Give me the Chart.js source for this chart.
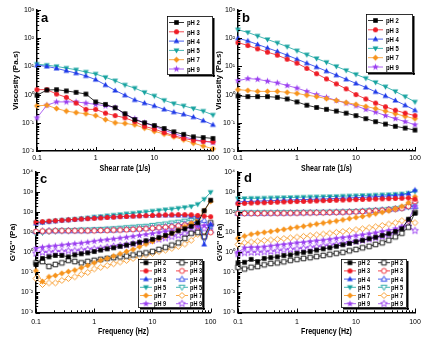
<!DOCTYPE html>
<html>
<head>
<meta charset="utf-8">
<script src="https://cdn.jsdelivr.net/npm/chart.js@4.4.1/dist/chart.umd.min.js"></script>
<style>
  html, body { margin: 0; padding: 0; background: #fff; width: 433px; height: 342px; overflow: hidden; }
  canvas { position: absolute; }
</style>
</head>
<body>
<canvas id="pa" width="222" height="176" style="left:0px;top:0px;width:222px;height:176px"></canvas>
<canvas id="pb" width="222" height="176" style="left:211px;top:0px;width:222px;height:176px"></canvas>
<canvas id="pc" width="222" height="177" style="left:0px;top:165px;width:222px;height:177px"></canvas>
<canvas id="pd" width="222" height="177" style="left:211px;top:165px;width:222px;height:177px"></canvas>
<script>
// ---- shared categories ----
const phLabels = ['pH 2', 'pH 3', 'pH 4', 'pH 5', 'pH 7', 'pH 9'];

// ---- shear-rate sweeps (viscosity, Pa.s) ----
const shearRate = [0.1, 0.147, 0.215, 0.316, 0.464, 0.681, 1, 1.47, 2.15, 3.16, 4.64, 6.81, 10, 14.7, 21.5, 31.6, 46.4, 68.1, 100];

const viscA_pH2 = [0.95, 1.45, 1.5, 1.35, 1.2, 1.05, 0.55, 0.45, 0.34, 0.21, 0.13, 0.1, 0.08, 0.063, 0.048, 0.039, 0.032, 0.03, 0.028];
const viscA_pH3 = [1.5, 1.5, 1.05, 0.8, 0.5, 0.3, 0.3, 0.22, 0.18, 0.15, 0.11, 0.075, 0.06, 0.045, 0.035, 0.028, 0.024, 0.022, 0.021];
const viscA_pH4 = [11, 10, 8.5, 7, 5.8, 4.6, 3.4, 2.2, 1.4, 0.95, 0.65, 0.5, 0.4, 0.3, 0.24, 0.2, 0.16, 0.12, 0.085];
const viscA_pH5 = [12, 11, 10, 8.7, 7.6, 6.3, 5.4, 4.1, 3.1, 2.2, 1.7, 1.2, 0.9, 0.63, 0.48, 0.4, 0.32, 0.26, 0.19];
const viscA_pH7 = [0.4, 0.42, 0.32, 0.26, 0.23, 0.21, 0.18, 0.13, 0.1, 0.095, 0.085, 0.065, 0.05, 0.04, 0.032, 0.025, 0.019, 0.015, 0.012];
const viscA_pH9 = [0.15, 0.42, 0.55, 0.55, 0.55, 0.5, 0.45, 0.4, 0.35, 0.2, 0.14, 0.1, 0.075, 0.055, 0.042, 0.032, 0.026, 0.022, 0.02];

const viscB_pH2 = [0.9, 0.85, 0.85, 0.85, 0.8, 0.7, 0.55, 0.42, 0.35, 0.3, 0.26, 0.22, 0.18, 0.14, 0.11, 0.09, 0.075, 0.065, 0.055];
const viscB_pH3 = [70, 55, 42, 32, 25, 18, 13, 8.5, 5.5, 3.6, 2.4, 1.6, 1.0, 0.7, 0.5, 0.37, 0.28, 0.22, 0.18];
const viscB_pH4 = [100, 80, 60, 45, 34, 25, 18, 13, 9.5, 6.8, 4.9, 3.5, 2.5, 1.8, 1.25, 0.9, 0.62, 0.42, 0.28];
const viscB_pH5 = [200, 160, 120, 90, 68, 50, 36, 26, 19, 14, 10, 7.2, 5.2, 3.8, 2.7, 1.9, 1.3, 0.85, 0.55];
const viscB_pH7 = [1.5, 1.4, 1.3, 1.3, 1.3, 1.2, 1.1, 0.95, 0.85, 0.72, 0.62, 0.52, 0.45, 0.38, 0.32, 0.26, 0.21, 0.17, 0.14];
const viscB_pH9 = [3.1, 3.7, 3.5, 3.0, 2.6, 2.1, 1.7, 1.3, 1.0, 0.8, 0.62, 0.5, 0.4, 0.3, 0.24, 0.18, 0.14, 0.11, 0.085];

// ---- frequency sweeps (G' storage = filled, G'' loss = open, Pa) ----
const frequency = [0.1, 0.129, 0.167, 0.215, 0.278, 0.359, 0.464, 0.599, 0.774, 1, 1.29, 1.67, 2.15, 2.78, 3.59, 4.64, 5.99, 7.74, 10, 12.9, 16.7, 21.5, 27.8, 35.9, 46.4, 59.9, 77.4, 100];

const storC_pH2 = [0.25, 0.5, 0.6, 0.7, 0.7, 0.6, 0.75, 0.85, 0.95, 1.1, 1.3, 1.5, 1.7, 2.0, 2.3, 2.7, 3.2, 3.8, 4.5, 5.5, 7, 9, 12, 15, 20, 30, 120, 400];
const storC_pH3 = [32, 34, 36, 38, 40, 42, 44, 46, 48, 50, 52, 55, 57, 60, 62, 64, 66, 68, 70, 72, 74, 75, 76, 76, 75, 70, 65, 60];
const storC_pH4 = [28, 31, 34, 37, 40, 42, 44, 47, 50, 53, 56, 58, 60, 62, 64, 66, 68, 70, 71, 72, 72, 72, 71, 70, 65, 60, 2.5, 25];
const storC_pH5 = [30, 32, 34, 37, 40, 42, 45, 48, 52, 58, 62, 67, 72, 78, 84, 90, 97, 105, 115, 125, 135, 145, 160, 175, 195, 250, 450, 1000];
const storC_pH7 = [0.12, 0.035, 0.06, 0.07, 0.09, 0.11, 0.13, 0.17, 0.22, 0.3, 0.4, 0.5, 0.65, 0.85, 1.1, 1.4, 1.9, 2.6, 3.5, 4.8, 6.5, 9, 13, 19, 28, 45, 120, 350];
const storC_pH9 = [1.6, 1.8, 2.0, 2.1, 2.3, 2.5, 2.7, 2.9, 3.2, 3.6, 4.0, 4.3, 4.7, 5.2, 5.7, 6.3, 7.0, 7.8, 8.7, 9.7, 11, 12, 13.5, 15, 17, 20, 22, 25];

const lossC_pH2 = [0.3, 0.35, 0.2, 0.25, 0.3, 0.4, 0.35, 0.3, 0.35, 0.4, 0.45, 0.5, 0.55, 0.6, 0.65, 0.75, 0.85, 0.95, 1.1, 1.4, 1.8, 2.3, 3, 5, 9, 10, 6, 30];
const lossC_pH3 = [11, 11.5, 11.5, 12, 12, 12, 12, 12, 12, 12, 12.5, 12.5, 13, 13, 13.5, 14, 14.5, 15, 16, 17, 18, 19, 21, 23, 26, 20, 6, 10];
const lossC_pH4 = [11, 11.5, 12, 12, 12, 12, 12, 12, 12, 12.5, 12.5, 13, 13, 13.5, 14, 14.5, 15, 16, 17, 18, 19, 21, 23, 26, 29, 33, 40, 12];
const lossC_pH5 = [9, 10, 11, 11.5, 12, 12, 12.5, 13, 13, 13.5, 14, 14.5, 15, 16, 17, 18, 19, 20, 22, 24, 26, 29, 32, 36, 40, 45, 5.5, 20];
const lossC_pH7 = [0.05, 0.025, 0.03, 0.03, 0.04, 0.05, 0.06, 0.08, 0.1, 0.15, 0.18, 0.22, 0.27, 0.33, 0.4, 0.5, 0.6, 0.75, 0.9, 1.1, 1.3, 1.6, 2.0, 2.6, 4, 8, 6, 25];
const lossC_pH9 = [0.9, 1.0, 1.0, 1.1, 1.1, 1.2, 1.2, 1.3, 1.4, 1.5, 1.6, 1.8, 2.0, 2.2, 2.4, 2.7, 3.0, 3.4, 3.9, 4.5, 5.2, 6.0, 7.0, 8.5, 10, 13, 15, 20];

const storD_pH2 = [0.3, 0.32, 0.45, 0.35, 0.5, 0.55, 0.6, 0.7, 0.75, 0.9, 1.0, 1.1, 1.3, 1.5, 1.7, 2.0, 2.4, 2.8, 3.4, 4.0, 4.8, 5.7, 7, 8.5, 11, 15, 45, 90];
const storD_pH3 = [270, 280, 290, 300, 300, 310, 320, 330, 340, 345, 350, 360, 370, 380, 390, 400, 410, 420, 430, 440, 450, 460, 470, 480, 490, 500, 520, 450];
const storD_pH4 = [330, 340, 350, 360, 370, 380, 390, 400, 410, 420, 430, 440, 450, 460, 475, 490, 505, 520, 540, 560, 580, 600, 630, 660, 700, 750, 850, 1300];
const storD_pH5 = [480, 490, 500, 500, 510, 520, 530, 540, 550, 560, 570, 580, 590, 600, 610, 620, 640, 650, 670, 690, 700, 720, 740, 760, 790, 820, 900, 1100];
const storD_pH7 = [5, 6.5, 8, 9, 10, 11, 12.5, 14, 16, 18, 20, 23, 26, 29, 33, 37, 42, 48, 55, 62, 72, 85, 100, 120, 150, 200, 300, 600];
const storD_pH9 = [1.0, 1.7, 1.8, 1.8, 1.9, 2.1, 2.3, 2.5, 2.7, 3.0, 3.2, 3.5, 3.8, 4.1, 4.5, 5.0, 5.5, 6.0, 6.8, 7.6, 8.5, 9.5, 11, 12.5, 15, 18, 40, 200];

const lossD_pH2 = [0.18, 0.15, 0.18, 0.2, 0.24, 0.28, 0.3, 0.34, 0.4, 0.45, 0.5, 0.55, 0.62, 0.7, 0.8, 0.9, 1.0, 1.2, 1.4, 1.7, 2.0, 2.5, 3, 4, 6, 9, 18, 100];
const lossD_pH3 = [88, 88, 88, 88, 89, 89, 90, 90, 91, 92, 93, 94, 95, 96, 97, 99, 101, 103, 106, 110, 114, 119, 125, 133, 145, 160, 200, 350];
const lossD_pH4 = [90, 90, 90, 90, 90, 91, 92, 92, 93, 94, 95, 96, 97, 98, 100, 102, 104, 107, 110, 114, 118, 123, 130, 138, 150, 165, 190, 200];
const lossD_pH5 = [95, 95, 95, 95, 96, 96, 97, 97, 98, 98, 99, 100, 100, 101, 102, 104, 106, 108, 110, 115, 120, 125, 130, 140, 150, 165, 190, 250];
const lossD_pH7 = [2.5, 3.0, 3.3, 3.6, 3.9, 4.2, 4.5, 4.9, 5.3, 5.8, 6.3, 6.9, 7.5, 8.2, 9, 10, 11, 12, 13.5, 15, 17, 19, 22, 26, 30, 38, 40, 30];
const lossD_pH9 = [0.85, 0.95, 1.0, 1.0, 1.05, 1.1, 1.2, 1.3, 1.4, 1.5, 1.6, 1.75, 1.9, 2.1, 2.3, 2.5, 2.8, 3.1, 3.5, 4, 4.6, 5.3, 6.2, 7.5, 10, 18, 20, 12];

// ---- styling ----
const phColors = ['#000000', '#ee1c25', '#1f3ae8', '#17a3a0', '#f7941d', '#9b3ff0'];
const phShapes = ['square', 'circle', 'up', 'down', 'diamond', 'star'];
const SANS = "'Liberation Sans',Arial,sans-serif";
const SQUEEZE = 0.74;   // horizontal text compression used for the lettering

// Small bitmap markers so the five-point star and the inverted triangle match the other symbols.
function marker(shape, color, open) {
  const c = document.createElement('canvas');
  c.width = 9; c.height = 9;
  const g = c.getContext('2d');
  const m = 4.5;
  g.beginPath();
  if (shape === 'square') g.rect(m - 2.3, m - 2.3, 4.6, 4.6);
  else if (shape === 'circle') g.arc(m, m, 2.5, 0, Math.PI * 2);
  else if (shape === 'up') { g.moveTo(m, m - 3); g.lineTo(m + 2.9, m + 2.1); g.lineTo(m - 2.9, m + 2.1); g.closePath(); }
  else if (shape === 'down') { g.moveTo(m, m + 3); g.lineTo(m + 2.9, m - 2.1); g.lineTo(m - 2.9, m - 2.1); g.closePath(); }
  else if (shape === 'diamond') { g.moveTo(m, m - 3); g.lineTo(m + 3, m); g.lineTo(m, m + 3); g.lineTo(m - 3, m); g.closePath(); }
  else if (shape === 'star') {
    for (let k = 0; k < 10; k++) {
      const r = k % 2 ? 1.5 : 3.6;
      const a = -Math.PI / 2 + k * Math.PI / 5;
      if (k === 0) g.moveTo(m + r * Math.cos(a), m + r * Math.sin(a));
      else g.lineTo(m + r * Math.cos(a), m + r * Math.sin(a));
    }
    g.closePath();
  }
  if (open) { g.fillStyle = '#fff'; g.fill(); g.strokeStyle = color; g.lineWidth = 0.9; g.stroke(); }
  else { g.fillStyle = color; g.fill(); }
  return c;
}

function series(xs, ys, i, open) {
  return {
    label: phLabels[i],
    data: xs.map((x, k) => ({ x: x, y: ys[k] })),
    borderColor: phColors[i],
    backgroundColor: phColors[i],
    borderWidth: 0.8,
    pointStyle: marker(phShapes[i], phColors[i], open),
    pointRadius: 3,
    tension: 0,
    clip: false
  };
}

function isPow10(v) {
  const l = Math.log10(v);
  return Math.abs(l - Math.round(l)) < 1e-6;
}
function logTicks(min, max) {
  const out = [];
  for (let e = Math.floor(Math.log10(min)); e <= Math.ceil(Math.log10(max)); e++) {
    for (let m = 1; m <= 9; m++) {
      const v = Number((m * Math.pow(10, e)).toPrecision(6));
      if (v >= min * 0.999 && v <= max * 1.001) out.push({ value: v });
    }
  }
  return out;
}
const SUP = { '-': '\u207B', '0': '\u2070', '1': '\u00B9', '2': '\u00B2', '3': '\u00B3', '4': '\u2074' };
function powLabel(v) {
  if (!isPow10(v)) return '';
  const e = String(Math.round(Math.log10(v)));
  return '10' + e.split('').map(ch => SUP[ch]).join('');
}
function plainLabel(v) {
  return isPow10(v) ? String(v) : '';
}

function squeezedText(ctx, text, x, y, align) {
  ctx.save();
  ctx.translate(x, y);
  ctx.scale(SQUEEZE, 1);
  ctx.textAlign = align;
  ctx.fillText(text, 0, 0);
  ctx.restore();
}

// Inward tick marks, x-axis title, framed legend and panel letter.
const panelDeco = {
  id: 'panelDeco',
  afterDraw(chart, args, o) {
    const ctx = chart.ctx;
    const a = chart.chartArea;
    const xs = chart.scales.x, ys = chart.scales.y;
    ctx.save();
    ctx.strokeStyle = '#000';
    ctx.lineWidth = 1;
    xs.ticks.forEach(t => {
      const p = Math.round(xs.getPixelForValue(t.value)) + 0.5;
      const L = isPow10(t.value) ? 4 : 2.2;
      ctx.beginPath(); ctx.moveTo(p, a.bottom); ctx.lineTo(p, a.bottom - L); ctx.stroke();
    });
    ys.ticks.forEach(t => {
      const p = Math.round(ys.getPixelForValue(t.value)) + 0.5;
      const L = isPow10(t.value) ? 4 : 2.2;
      ctx.beginPath(); ctx.moveTo(a.left, p); ctx.lineTo(a.left + L, p); ctx.stroke();
    });

    // x-axis title
    ctx.fillStyle = '#000';
    ctx.font = 'bold 9.5px ' + SANS;
    ctx.textBaseline = 'middle';
    squeezedText(ctx, o.xTitle.text, (a.left + a.right) / 2, o.xTitle.y, 'center');

    // legend box with drop shadow
    const lg = o.legend;
    ctx.fillStyle = '#000';
    ctx.fillRect(lg.x + 2, lg.y + lg.h, lg.w, 1.5);
    ctx.fillRect(lg.x + lg.w, lg.y + 2, 1.5, lg.h);
    ctx.fillStyle = '#fff';
    ctx.fillRect(lg.x, lg.y, lg.w, lg.h);
    ctx.strokeStyle = '#000';
    ctx.lineWidth = 0.8;
    ctx.strokeRect(lg.x + 0.5, lg.y + 0.5, lg.w - 1, lg.h - 1);
    ctx.font = 'bold ' + lg.font + 'px ' + SANS;
    ctx.textBaseline = 'middle';
    chart.data.datasets.forEach((ds, i) => {
      const col = Math.floor(i / 6), row = i % 6;
      const x0 = lg.cols[col].line, x1 = x0 + lg.lineW;
      const y = lg.row0 + row * lg.rowH;
      ctx.strokeStyle = ds.borderColor;
      ctx.lineWidth = 0.8;
      ctx.beginPath(); ctx.moveTo(x0, y); ctx.lineTo(x1, y); ctx.stroke();
      const img = ds.pointStyle;
      ctx.drawImage(img, (x0 + x1) / 2 - img.width / 2, y - img.height / 2);
      ctx.fillStyle = '#000';
      squeezedText(ctx, ds.label, lg.cols[col].text, y + 0.5, 'left');
    });

    // panel letter
    ctx.fillStyle = '#000';
    ctx.font = 'bold 13px ' + SANS;
    ctx.textBaseline = 'alphabetic';
    ctx.textAlign = 'left';
    ctx.fillText(o.letter.text, o.letter.x, o.letter.y);
    ctx.restore();
  }
};

function makePanel(id, p) {
  return new Chart(document.getElementById(id), {
    type: 'line',
    data: { datasets: p.datasets },
    options: {
      responsive: false,
      animation: false,
      events: [],
      devicePixelRatio: 1,
      layout: { padding: { left: 0, top: p.padTop, right: p.padRight, bottom: 0 } },
      plugins: {
        legend: { display: false },
        tooltip: { enabled: false },
        panelDeco: { legend: p.legend, letter: p.letter, xTitle: { text: p.xTitle, y: p.xTitleY } }
      },
      scales: {
        x: {
          type: 'logarithmic', min: p.xMin, max: p.xMax,
          afterFit: s => { s.height = p.xH; },
          afterBuildTicks: s => { s.ticks = logTicks(s.min, s.max); },
          grid: { display: false, drawTicks: false },
          border: { display: true, color: '#000', width: 1.5 },
          ticks: { autoSkip: false, maxRotation: 0, padding: p.xTickPad, color: '#000',
                   font: { family: SANS, size: 7 }, callback: v => plainLabel(v) },
          title: { display: false }
        },
        y: {
          type: 'logarithmic', min: p.yMin, max: p.yMax,
          afterFit: s => { s.width = p.yW; },
          afterBuildTicks: s => { s.ticks = logTicks(s.min, s.max); },
          grid: { display: false, drawTicks: false },
          border: { display: true, color: '#000', width: 1.5 },
          ticks: { autoSkip: false, padding: 3, color: '#000',
                   font: { family: SANS, size: 7 }, callback: v => powLabel(v) },
          title: { display: true, text: p.yTitle, color: '#000',
                   font: { family: SANS, size: 8, weight: 'bold' },
                   padding: { top: p.yTitlePad, bottom: 0 } }
        }
      }
    },
    plugins: [panelDeco]
  });
}

const viscA = [viscA_pH2, viscA_pH3, viscA_pH4, viscA_pH5, viscA_pH7, viscA_pH9];
const viscB = [viscB_pH2, viscB_pH3, viscB_pH4, viscB_pH5, viscB_pH7, viscB_pH9];
const storC = [storC_pH2, storC_pH3, storC_pH4, storC_pH5, storC_pH7, storC_pH9];
const lossC = [lossC_pH2, lossC_pH3, lossC_pH4, lossC_pH5, lossC_pH7, lossC_pH9];
const storD = [storD_pH2, storD_pH3, storD_pH4, storD_pH5, storD_pH7, storD_pH9];
const lossD = [lossD_pH2, lossD_pH3, lossD_pH4, lossD_pH5, lossD_pH7, lossD_pH9];

makePanel('pa', {
  datasets: viscA.map((v, i) => series(shearRate, v, i, false)),
  xMin: 0.1, xMax: 100, yMin: 0.01, yMax: 1000,
  padTop: 10, padRight: 9, xH: 25, yW: 37,
  xTickPad: 3, xTitleY: 168, yTitlePad: 10.6,
  xTitle: 'Shear rate (1/s)', yTitle: 'Viscosity (Pa.s)',
  legend: { x: 167, y: 16, w: 46, h: 59, row0: 22.5, rowH: 9.3, lineW: 15, font: 8,
            cols: [{ line: 169, text: 187 }] },
  letter: { text: 'a', x: 41, y: 22 }
});

makePanel('pb', {
  datasets: viscB.map((v, i) => series(shearRate, v, i, false)),
  xMin: 0.1, xMax: 100, yMin: 0.01, yMax: 1000,
  padTop: 10, padRight: 18, xH: 25, yW: 27,
  xTickPad: 3, xTitleY: 168, yTitlePad: 2.6,
  xTitle: 'Shear rate (1/s)', yTitle: 'Viscosity (Pa.s)',
  legend: { x: 155, y: 14, w: 47, h: 59, row0: 20.5, rowH: 9.3, lineW: 15, font: 8,
            cols: [{ line: 157, text: 175 }] },
  letter: { text: 'b', x: 31, y: 22 }
});

makePanel('pc', {
  datasets: storC.map((v, i) => series(frequency, v, i, false))
    .concat(lossC.map((v, i) => series(frequency, v, i, true))),
  xMin: 0.1, xMax: 100, yMin: 0.001, yMax: 10000,
  padTop: 5.4, padRight: 10, xH: 29.5, yW: 36,
  xTickPad: 5.5, xTitleY: 166, yTitlePad: 8,
  xTitle: 'Frequency (Hz)', yTitle: "G'/G'' (Pa)",
  legend: { x: 138, y: 94, w: 65, h: 49, row0: 97.7, rowH: 8.2, lineW: 12, font: 7.5,
            cols: [{ line: 140, text: 154 }, { line: 176, text: 190 }] },
  letter: { text: 'c', x: 40, y: 18 }
});

makePanel('pd', {
  datasets: storD.map((v, i) => series(frequency, v, i, false))
    .concat(lossD.map((v, i) => series(frequency, v, i, true))),
  xMin: 0.1, xMax: 100, yMin: 0.001, yMax: 10000,
  padTop: 5.4, padRight: 18, xH: 29.5, yW: 27,
  xTickPad: 5.5, xTitleY: 166, yTitlePad: 3.6,
  xTitle: 'Frequency (Hz)', yTitle: "G'/G'' (Pa)",
  legend: { x: 130, y: 94, w: 66, h: 49, row0: 97.7, rowH: 8.2, lineW: 12, font: 7.5,
            cols: [{ line: 133, text: 147 }, { line: 167, text: 180 }] },
  letter: { text: 'd', x: 33, y: 17 }
});
</script>
</body>
</html>
